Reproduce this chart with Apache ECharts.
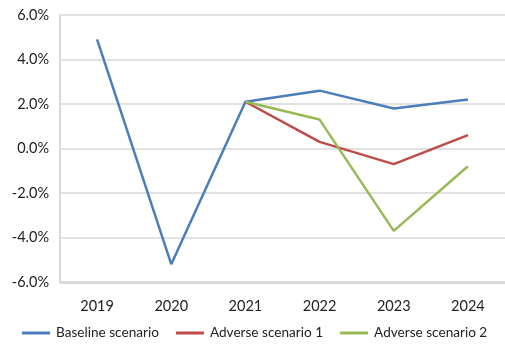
<!DOCTYPE html>
<html>
<head>
<meta charset="utf-8">
<script src="https://cdn.jsdelivr.net/npm/echarts@6/dist/echarts.min.js"></script>
<style>
  html, body { margin: 0; padding: 0; background: #fff; }
  #chart { width: 505px; height: 350px; }
</style>
</head>
<body>
<div id="chart"></div>
<script>
// Annual growth rates (%) under each scenario
const years = ['2019', '2020', '2021', '2022', '2023', '2024'];
const baseline = [4.9, -5.2, 2.1, 2.6, 1.8, 2.2];
const adverse1 = [null, null, 2.1, 0.3, -0.7, 0.6];
const adverse2 = [null, null, 2.1, 1.3, -3.7, -0.8];
const yTicks = [-6, -4, -2, 0, 2, 4, 6];

const FONT = 'Lato';
const chart = echarts.init(document.getElementById('chart'), null, { renderer: 'canvas' });

function lineSeries(name, data, color) {
  return {
    name: name,
    type: 'line',
    data: data,
    symbol: 'none',
    connectNulls: false,
    lineStyle: { color: color, width: 2.5 },
    itemStyle: { color: color },
    animation: false
  };
}

chart.setOption({
  backgroundColor: '#ffffff',
  textStyle: { fontFamily: FONT },
  grid: { left: 60, right: -4, top: 15, bottom: 68, containLabel: false },
  legend: {
    top: 326,
    left: 22,
    width: 490,
    padding: 0,
    itemWidth: 28,
    itemHeight: 3,
    itemGap: 17,
    icon: 'rect',
    textStyle: { fontFamily: FONT, fontSize: 13.6, color: '#222', padding: [0, 0, 0, 1] },
    data: ['Baseline scenario', 'Adverse scenario 1', 'Adverse scenario 2']
  },
  xAxis: {
    type: 'category',
    data: years,
    boundaryGap: true,
    axisLine: { show: false },
    axisTick: { show: false },
    axisLabel: { fontFamily: FONT, fontSize: 14.5, color: '#222', margin: 17 }
  },
  yAxis: {
    type: 'value',
    min: yTicks[0],
    max: yTicks[yTicks.length - 1],
    interval: 2,
    axisLine: { show: true, lineStyle: { color: '#d9d9d9', width: 2 } },
    axisTick: { show: false },
    splitLine: { lineStyle: { color: '#d9d9d9', width: 1.5 } },
    axisLabel: {
      fontFamily: FONT, fontSize: 14.5, color: '#222', margin: 11,
      formatter: v => v.toFixed(1) + '%'
    }
  },
  series: [
    lineSeries('Baseline scenario', baseline, '#4a7ebb'),
    lineSeries('Adverse scenario 1', adverse1, '#be4b48'),
    lineSeries('Adverse scenario 2', adverse2, '#98b954'),
    {
      // heavier baseline along the -6% edge of the plot
      type: 'line',
      data: [],
      markLine: {
        silent: true,
        symbol: 'none',
        label: { show: false },
        lineStyle: { color: '#d9d9d9', width: 3, type: 'solid' },
        data: [{ yAxis: yTicks[0] }]
      },
      animation: false
    }
  ]
});
</script>
</body>
</html>
